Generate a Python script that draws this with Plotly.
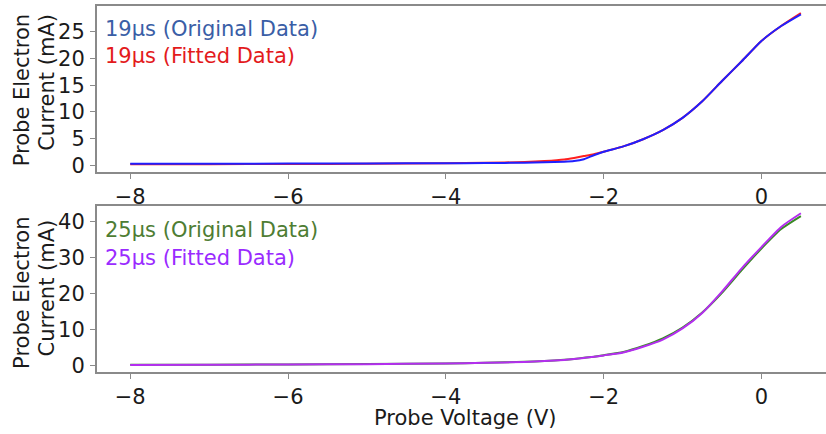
import plotly.graph_objects as go

W, H = 826, 434

# ---------------- data ----------------
voltage = [-8, -7, -6, -5, -4, -3.5, -3, -2.75, -2.5, -2.375, -2.25, -2.125,
           -2, -1.75, -1.5, -1.25, -1, -0.75, -0.5, -0.25, 0, 0.25, 0.5]

i19_original = [0.30, 0.31, 0.33, 0.36, 0.40, 0.44, 0.50, 0.58, 0.68, 0.80, 1.15, 1.90,
                2.55, 3.55, 4.90, 6.60, 8.90, 12.0, 15.8, 19.5, 23.3, 26.1, 28.3]
i19_fitted = [0.20, 0.22, 0.25, 0.30, 0.38, 0.48, 0.62, 0.80, 1.10, 1.40, 1.75, 2.10,
              2.55, 3.55, 4.90, 6.60, 8.90, 12.0, 15.8, 19.5, 23.3, 26.1, 28.5]

i25_original = [0.30, 0.33, 0.40, 0.50, 0.66, 0.86, 1.12, 1.37, 1.68, 1.93, 2.23, 2.55,
                2.95, 3.85, 5.50, 7.60, 10.6, 14.8, 20.3, 26.6, 32.6, 38.0, 41.6]
i25_fitted = [0.25, 0.30, 0.38, 0.48, 0.65, 0.85, 1.10, 1.35, 1.65, 1.90, 2.20, 2.50,
              2.90, 3.70, 5.30, 7.30, 10.4, 14.7, 20.6, 27.1, 33.0, 38.6, 42.4]

x_ticks = [-8, -6, -4, -2, 0]
labels = ["19μs (Original Data)", "19μs (Fitted Data)",
          "25μs (Original Data)", "25μs (Fitted Data)"]
line_colors = ["#1f1fff", "#ff1f1f", "#3a8a26", "#b42ef0"]
text_colors = ["#3a5ea6", "#e31a1c", "#4e7d33", "#9a2bff"]

FONT = "DejaVu Sans"
SPINE = "#8a8a8a"

def px(x):
    return x / W

def py(y):
    return 1 - y / H

fig = go.Figure()
fig.add_trace(go.Scatter(x=voltage, y=i19_fitted, mode="lines", line=dict(color=line_colors[1], width=2, shape="spline", smoothing=0.6), xaxis="x", yaxis="y", showlegend=False))
fig.add_trace(go.Scatter(x=voltage, y=i19_original, mode="lines", line=dict(color=line_colors[0], width=2, shape="spline", smoothing=0.6), xaxis="x", yaxis="y", showlegend=False))
fig.add_trace(go.Scatter(x=voltage, y=i25_original, mode="lines", line=dict(color=line_colors[2], width=2, shape="spline", smoothing=0.6), xaxis="x2", yaxis="y2", showlegend=False))
fig.add_trace(go.Scatter(x=voltage, y=i25_fitted, mode="lines", line=dict(color=line_colors[3], width=2, shape="spline", smoothing=0.6), xaxis="x2", yaxis="y2", showlegend=False))

x_left = 96.7
xrange_ = [-8.425, -8.425 + (W - x_left) / 78.9]

common_x = dict(domain=[px(x_left), 1], range=xrange_, tickvals=x_ticks,
                showline=True, mirror=True, linecolor=SPINE, linewidth=1.5,
                ticks="outside", ticklen=5, tickcolor=SPINE, tickwidth=1.2,
                ticklabelstandoff=0,
                showgrid=False, zeroline=False,
                tickfont=dict(family=FONT, size=21, color="#1a1a1a"))
common_y = dict(showline=True, mirror=False, linecolor=SPINE, linewidth=1.5,
                ticks="outside", ticklen=5, tickcolor=SPINE, tickwidth=1.2,
                ticklabelstandoff=1,
                showgrid=False, zeroline=False,
                tickfont=dict(family=FONT, size=21, color="#1a1a1a"))

fig.update_layout(
    width=W, height=H, autosize=False,
    margin=dict(l=0, r=0, t=0, b=0),
    paper_bgcolor="white", plot_bgcolor="white",
    xaxis=dict(anchor="y", **common_x),
    yaxis=dict(anchor="x", domain=[py(174.3), py(5.7)], range=[-1.22, 29.92], dtick=5, **common_y),
    xaxis2=dict(anchor="y2", **common_x),
    yaxis2=dict(anchor="x2", domain=[py(377.7), py(209)], range=[-1.84, 44.38], dtick=10, **common_y),
)

ann = []
# legend-like colored texts
for txt, col, ycen in [(labels[0], text_colors[0], 29), (labels[1], text_colors[1], 57),
                       (labels[2], text_colors[2], 233.5), (labels[3], text_colors[3], 261.5)]:
    ann.append(dict(text=txt, x=px(103), y=py(ycen), xref="paper", yref="paper",
                    xanchor="left", yanchor="middle", showarrow=False,
                    font=dict(family=FONT, size=21, color=col)))
# y axis labels (two lines each)
for t, xc, yc in [("Probe Electron", 22, 91.5), ("Current (mA)", 47, 84),
                  ("Probe Electron", 22, 297), ("Current (mA)", 47, 292.5)]:
    ann.append(dict(text=t, x=px(xc), y=py(yc), xref="paper", yref="paper",
                    xanchor="center", yanchor="middle", showarrow=False, textangle=-90,
                    font=dict(family=FONT, size=21, color="#1a1a1a")))
# x axis label
ann.append(dict(text="Probe Voltage (V)", x=px(465), y=py(424), xref="paper", yref="paper",
                xanchor="center", yanchor="middle", showarrow=False,
                font=dict(family=FONT, size=21, color="#1a1a1a")))
fig.update_layout(annotations=ann)

fig.write_html("out.html")
